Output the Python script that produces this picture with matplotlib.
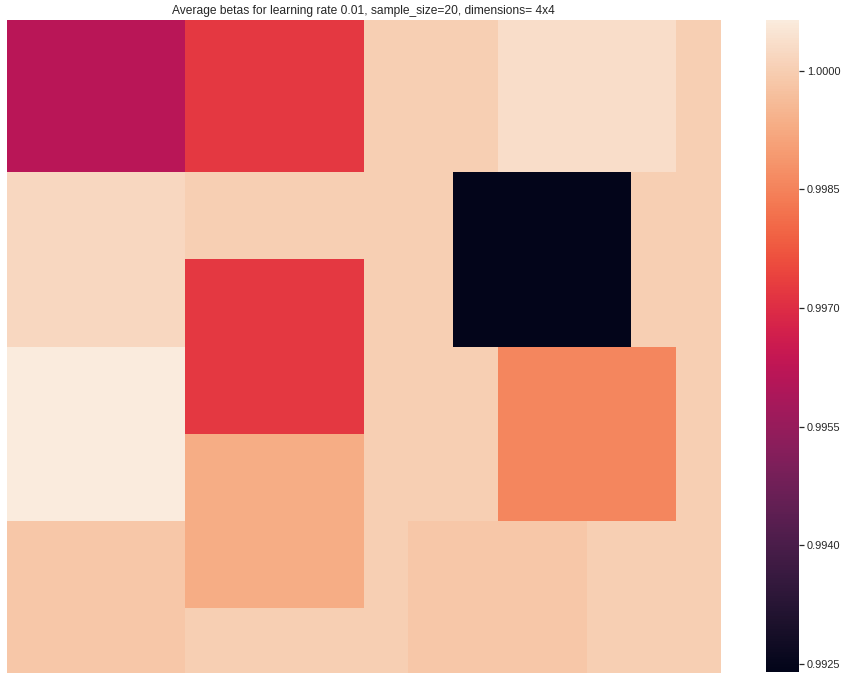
import matplotlib
matplotlib.use('Agg')
import matplotlib.pyplot as plt
import numpy as np
import seaborn as sns

# valores (cuadricula de 8 medias filas x 16 cuartos de columna)
row_0 = [0.99615, 0.99615, 0.99615, 0.99615, 0.99721, 0.99721, 0.99721, 0.99721,
         1.00000, 1.00000, 1.00000, 1.00035, 1.00035, 1.00035, 1.00035, 1.00000]
row_1 = [0.99615, 0.99615, 0.99615, 0.99615, 0.99721, 0.99721, 0.99721, 0.99721,
         1.00000, 1.00000, 1.00000, 1.00035, 1.00035, 1.00035, 1.00035, 1.00000]
row_2 = [1.00022, 1.00022, 1.00022, 1.00022, 1.00000, 1.00000, 1.00000, 1.00000,
         1.00000, 1.00000, 0.99240, 0.99240, 0.99240, 0.99240, 1.00000, 1.00000]
row_3 = [1.00022, 1.00022, 1.00022, 1.00022, 0.99721, 0.99721, 0.99721, 0.99721,
         1.00000, 1.00000, 0.99240, 0.99240, 0.99240, 0.99240, 1.00000, 1.00000]
row_4 = [1.00064, 1.00064, 1.00064, 1.00064, 0.99721, 0.99721, 0.99721, 0.99721,
         1.00000, 1.00000, 1.00000, 0.99855, 0.99855, 0.99855, 0.99855, 1.00000]
row_5 = [1.00064, 1.00064, 1.00064, 1.00064, 0.99930, 0.99930, 0.99930, 0.99930,
         1.00000, 1.00000, 1.00000, 0.99855, 0.99855, 0.99855, 0.99855, 1.00000]
row_6 = [0.99985, 0.99985, 0.99985, 0.99985, 0.99930, 0.99930, 0.99930, 0.99930,
         1.00000, 0.99985, 0.99985, 0.99985, 0.99985, 1.00000, 1.00000, 1.00000]
row_7 = [0.99985, 0.99985, 0.99985, 0.99985, 1.00000, 1.00000, 1.00000, 1.00000,
         1.00000, 0.99985, 0.99985, 0.99985, 0.99985, 1.00000, 1.00000, 1.00000]

cbar_ticks = [0.9925, 0.9940, 0.9955, 0.9970, 0.9985, 1.0000]
titulo = 'Average betas for learning rate 0.01, sample_size=20, dimensions= 4x4'

betas = np.array([row_0, row_1, row_2, row_3, row_4, row_5, row_6, row_7])

sns.set_theme(style='white')
plt.rcParams['font.family'] = ['Liberation Sans', 'DejaVu Sans']

W, H = 849, 680
fig = plt.figure(figsize=(W / 72, H / 72), dpi=72)
ax = fig.add_axes([7 / W, 1 - 673 / H, 713.7 / W, 653 / H])
cax = fig.add_axes([766 / W, 1 - 672 / H, 33 / W, 652 / H])

sns.heatmap(betas, ax=ax, cbar_ax=cax, cmap='rocket',
            xticklabels=False, yticklabels=False)
ax.set_ylim(7.75, 0.25)
ax.set_title(titulo, fontsize=12, color='.15')

# barra de color
cbar = ax.collections[0].colorbar
cbar.set_ticks(cbar_ticks)
cbar.ax.yaxis.set_major_formatter('{x:.4f}')
cbar.ax.tick_params(axis='y', right=True, length=5, width=1.25, color='.15',
                    labelsize=11, labelcolor='.15', pad=3)

fig.savefig('out.png', dpi=72)
